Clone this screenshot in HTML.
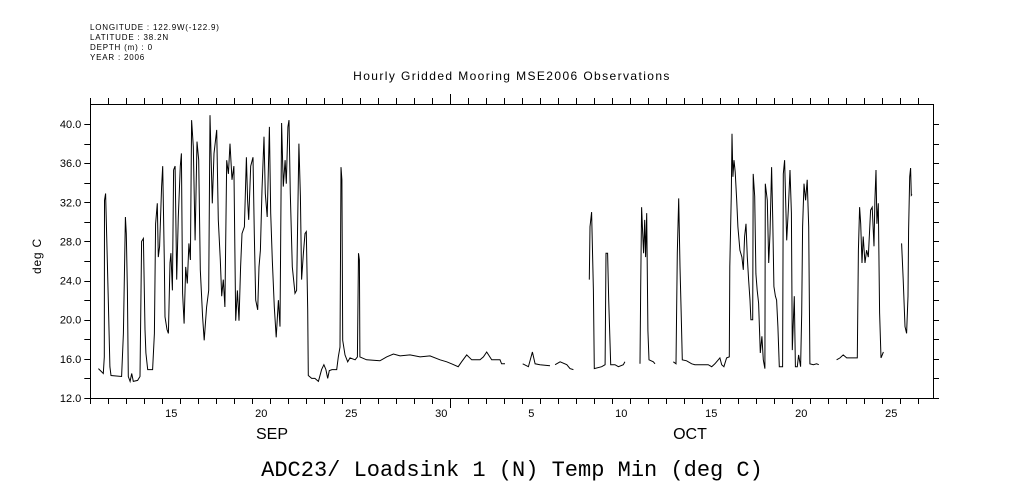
<!DOCTYPE html>
<html><head><meta charset="utf-8"><style>
body{margin:0;background:#fff}
svg{display:block}
text{font-family:"Liberation Sans",sans-serif;fill:#000}
</style></head><body>
<svg id="chart" width="1009" height="504" viewBox="0 0 1009 504" xmlns="http://www.w3.org/2000/svg">
<g font-size="8" letter-spacing="0.8">
<text x="90" y="30">LONGITUDE : 122.9W(-122.9)</text>
<text x="90" y="40">LATITUDE : 38.2N</text>
<text x="90" y="50">DEPTH (m) : 0</text>
<text x="90" y="60">YEAR : 2006</text>
</g>
<text x="512" y="80" font-size="12" letter-spacing="1.4" text-anchor="middle">Hourly Gridded Mooring MSE2006 Observations</text>
<text transform="translate(41,256) rotate(-90)" font-size="12" letter-spacing="0.8" text-anchor="middle">deg C</text>
<text x="512" y="476" font-size="22" text-anchor="middle" style="font-family:'Liberation Mono',monospace">ADC23/ Loadsink 1 (N) Temp Min (deg C)</text>
<text x="272" y="439" font-size="16" text-anchor="middle">SEP</text>
<text x="690" y="439" font-size="16" text-anchor="middle">OCT</text>
<g id="axes"></g>
<path id="series" fill="none" stroke="#000" stroke-width="1"/>
</svg>
<script>
const yTicks=[12,16,20,24,28,32,36,40];
const dayLabels=[15,20,25,30,5,10,15,20,25];
const dayLabelT=[4,9,14,19,24,29,34,39,44];
const times=[0.45,0.72,0.78,0.79,0.85,0.91,1.00,1.09,1.15,1.74,1.84,1.95,2.00,2.06,2.11,2.21,2.30,2.39,2.63,2.76,2.85,2.95,3.04,3.09,3.19,3.46,3.56,3.63,3.72,3.78,3.85,3.96,4.02,4.11,4.15,4.26,4.34,4.43,4.48,4.56,4.63,4.71,4.80,4.89,5.00,5.06,5.13,5.21,5.30,5.39,5.48,5.56,5.63,5.72,5.82,5.93,6.02,6.11,6.24,6.33,6.46,6.58,6.65,6.78,6.87,7.02,7.11,7.22,7.30,7.39,7.48,7.58,7.67,7.76,7.87,7.98,8.08,8.17,8.26,8.35,8.43,8.56,8.67,8.74,8.80,8.91,9.04,9.11,9.19,9.30,9.37,9.45,9.54,9.65,9.72,9.83,9.95,10.02,10.11,10.22,10.33,10.45,10.54,10.63,10.72,10.82,10.89,10.98,11.04,11.11,11.22,11.37,11.46,11.59,11.67,11.74,11.84,11.93,12.00,12.08,12.11,12.30,12.48,
12.67,12.85,12.98,13.09,13.19,13.28,13.43,13.69,13.78,13.87,13.93,13.98,14.02,14.15,14.30,14.43,14.71,14.84,14.90,14.95,14.98,15.35,16.09,16.46,16.84,17.21,17.76,18.32,18.87,19.43,19.80,20.07,20.44,20.63,20.91,21.19,21.65,21.84,22.02,22.30,22.76,22.85,23.04,23.5,
24.02,24.34,24.56,24.71,24.98,25.54,25.7,25.82,26.10,26.47,26.65,26.84,27.3,27.72,27.76,27.85,27.95,28.00,28.41,28.60,28.65,28.74,28.80,28.91,29.15,29.34,29.61,29.70,30.1,
30.54,30.58,30.63,30.69,30.74,30.80,30.85,30.91,30.98,31.04,31.28,31.37,31.9,32.39,32.54,32.61,32.69,32.76,32.82,32.89,33.13,33.41,33.59,34.33,34.52,34.70,34.98,35.08,35.20,35.35,35.50,35.53,35.61,35.65,35.70,35.76,35.83,35.91,35.98,36.09,36.20,36.28,36.35,36.43,36.50,36.57,36.65,36.70,36.80,36.83,36.91,36.98,37.05,37.13,37.22,37.31,37.39,37.48,37.50,37.61,37.69,37.76,37.85,37.91,37.98,38.06,38.13,38.20,38.28,38.46,38.50,38.57,38.69,38.78,38.87,38.95,39.00,39.06,39.11,39.17,39.28,39.35,39.46,39.52,39.57,39.65,39.74,39.83,39.91,39.98,40.17,40.35,40.47,41.0,
41.46,41.65,41.83,42.02,42.61,42.67,42.74,42.80,42.87,42.94,43.04,43.13,43.22,43.35,43.44,43.54,43.59,43.65,43.70,43.78,43.85,43.93,44.06,44.5,
45.07,45.16,45.26,45.35,45.43,45.46,45.52,45.57,45.61,45.65];
const temps=[15.0,14.5,16.2,32.2,32.9,28.5,22.0,15.2,14.3,14.2,18.6,30.5,28.8,23.0,14.2,13.7,14.5,13.7,13.8,14.2,28.0,28.3,19.0,16.6,14.9,14.9,18.6,29.8,31.9,26.4,27.5,33.6,35.7,26.1,20.3,19.0,18.6,25.8,26.8,23.0,35.3,35.7,24.1,30.5,35.7,37.0,22.7,19.6,25.4,23.7,27.8,26.1,40.4,37.7,28.1,38.2,36.3,25.1,20.3,17.9,21.3,23.0,40.9,31.9,37.0,39.4,30.2,26.1,22.4,24.1,21.3,36.3,34.9,38.0,34.3,35.7,19.9,23.0,19.9,25.4,28.8,29.5,36.6,32.2,30.2,35.7,36.6,28.8,22.0,21.0,25.4,27.1,33.3,38.7,32.9,30.5,39.7,30.9,26.1,21.3,18.2,22.0,19.3,40.1,33.6,36.3,33.9,39.7,40.4,32.9,25.4,22.7,23.0,38.0,32.6,24.1,26.8,28.8,29.0,21.0,14.3,14.0,14.0,
13.7,14.9,15.4,14.9,14.0,14.8,14.9,14.9,16.2,17.2,35.6,34.3,17.9,16.4,15.7,16.1,15.9,16.2,26.8,26.1,16.2,15.9,15.8,16.2,16.5,16.3,16.4,16.2,16.3,15.9,15.7,15.5,15.2,15.7,16.4,15.9,15.9,16.2,16.7,15.9,15.9,15.5,15.5,null,
15.5,15.2,16.7,15.5,15.4,15.3,null,15.4,15.7,15.4,15.0,14.9,null,24.1,29.5,31.0,23.0,15.0,15.2,15.4,26.8,26.8,22.0,15.4,15.4,15.2,15.4,15.7,null,
15.5,23.4,31.5,28.8,26.8,30.2,26.4,30.9,18.9,15.9,15.7,15.5,null,15.7,15.5,26.8,32.4,25.4,21.0,15.9,15.8,15.5,15.4,15.4,15.2,15.5,16.1,15.4,15.2,16.1,16.2,25.4,32.8,39.0,34.6,36.3,35.1,32.2,29.5,27.1,26.4,25.1,28.5,29.8,26.4,24.1,22.0,20.0,20.0,34.9,32.6,24.7,23.0,21.7,16.6,18.3,15.9,15.0,33.9,32.2,25.8,28.8,35.6,30.5,23.4,22.4,22.0,19.3,15.2,15.2,34.9,36.3,28.1,31.2,35.3,30.9,16.9,20.0,22.4,15.2,15.2,16.4,15.2,20.6,29.5,33.9,32.2,34.3,29.5,15.5,15.4,15.5,15.4,null,
15.9,16.1,16.4,16.1,16.1,27.1,31.5,29.8,25.8,28.5,25.8,27.1,26.4,31.2,31.5,27.5,32.2,35.3,29.8,31.9,20.7,16.1,16.7,null,
27.8,24.1,19.3,18.6,22.4,29.2,34.6,35.5,32.7,32.8];
const L=90.3,R=933,T=104,B=398;
const xOf=t=>L+18*t;
const yOf=v=>B-(v-12)*(B-124)/28;
const NS="http://www.w3.org/2000/svg";
const ax=document.getElementById('axes');
function line(x1,y1,x2,y2,name){const e=document.createElementNS(NS,'line');
e.setAttribute('x1',x1);e.setAttribute('y1',y1);e.setAttribute('x2',x2);e.setAttribute('y2',y2);
e.setAttribute('stroke','#000');e.setAttribute('stroke-width','1');


ax.appendChild(e);}
function txt(x,y,s,anchor,name){const e=document.createElementNS(NS,'text');
e.setAttribute('x',x);e.setAttribute('y',y);e.setAttribute('font-size','11');e.setAttribute('text-anchor',anchor);e.textContent=s;


ax.appendChild(e);}
const f=v=>Math.round(v)+0.5;
line(f(L),T,f(L),B+0.5,'y-axis-left');line(f(R),T,f(R),B+0.5,'y-axis-right');
line(L,f(T),R,f(T),'x-axis-top');line(L,f(B),R,f(B),'x-axis-bottom');
for(let v=12;v<=40;v+=2){const y=f(yOf(v));line(L-6,y,L,y,'y-tick');line(R,y,R+6,y,'y-tick-right');}
yTicks.forEach(v=>txt(L-9,yOf(v)+4,v.toFixed(1),'end','y-tick-label'));
for(let d=0;d<=46;d++){const x=f(xOf(d));const lg=d===20?10:6;line(x,B,x,B+lg,'x-tick');line(x,T-lg,x,T,'x-tick-top');}
dayLabels.forEach((s,i)=>txt(xOf(dayLabelT[i]+0.5),B+19,String(s),'middle','x-tick-label'));
let d='',pen=false;
for(let i=0;i<times.length;i++){
 if(temps[i]===null){pen=false;continue;}
 d+=(pen?'L':'M')+xOf(times[i]).toFixed(1)+' '+yOf(temps[i]).toFixed(1);pen=true;}
document.getElementById('series').setAttribute('d',d);
</script>
</body></html>
